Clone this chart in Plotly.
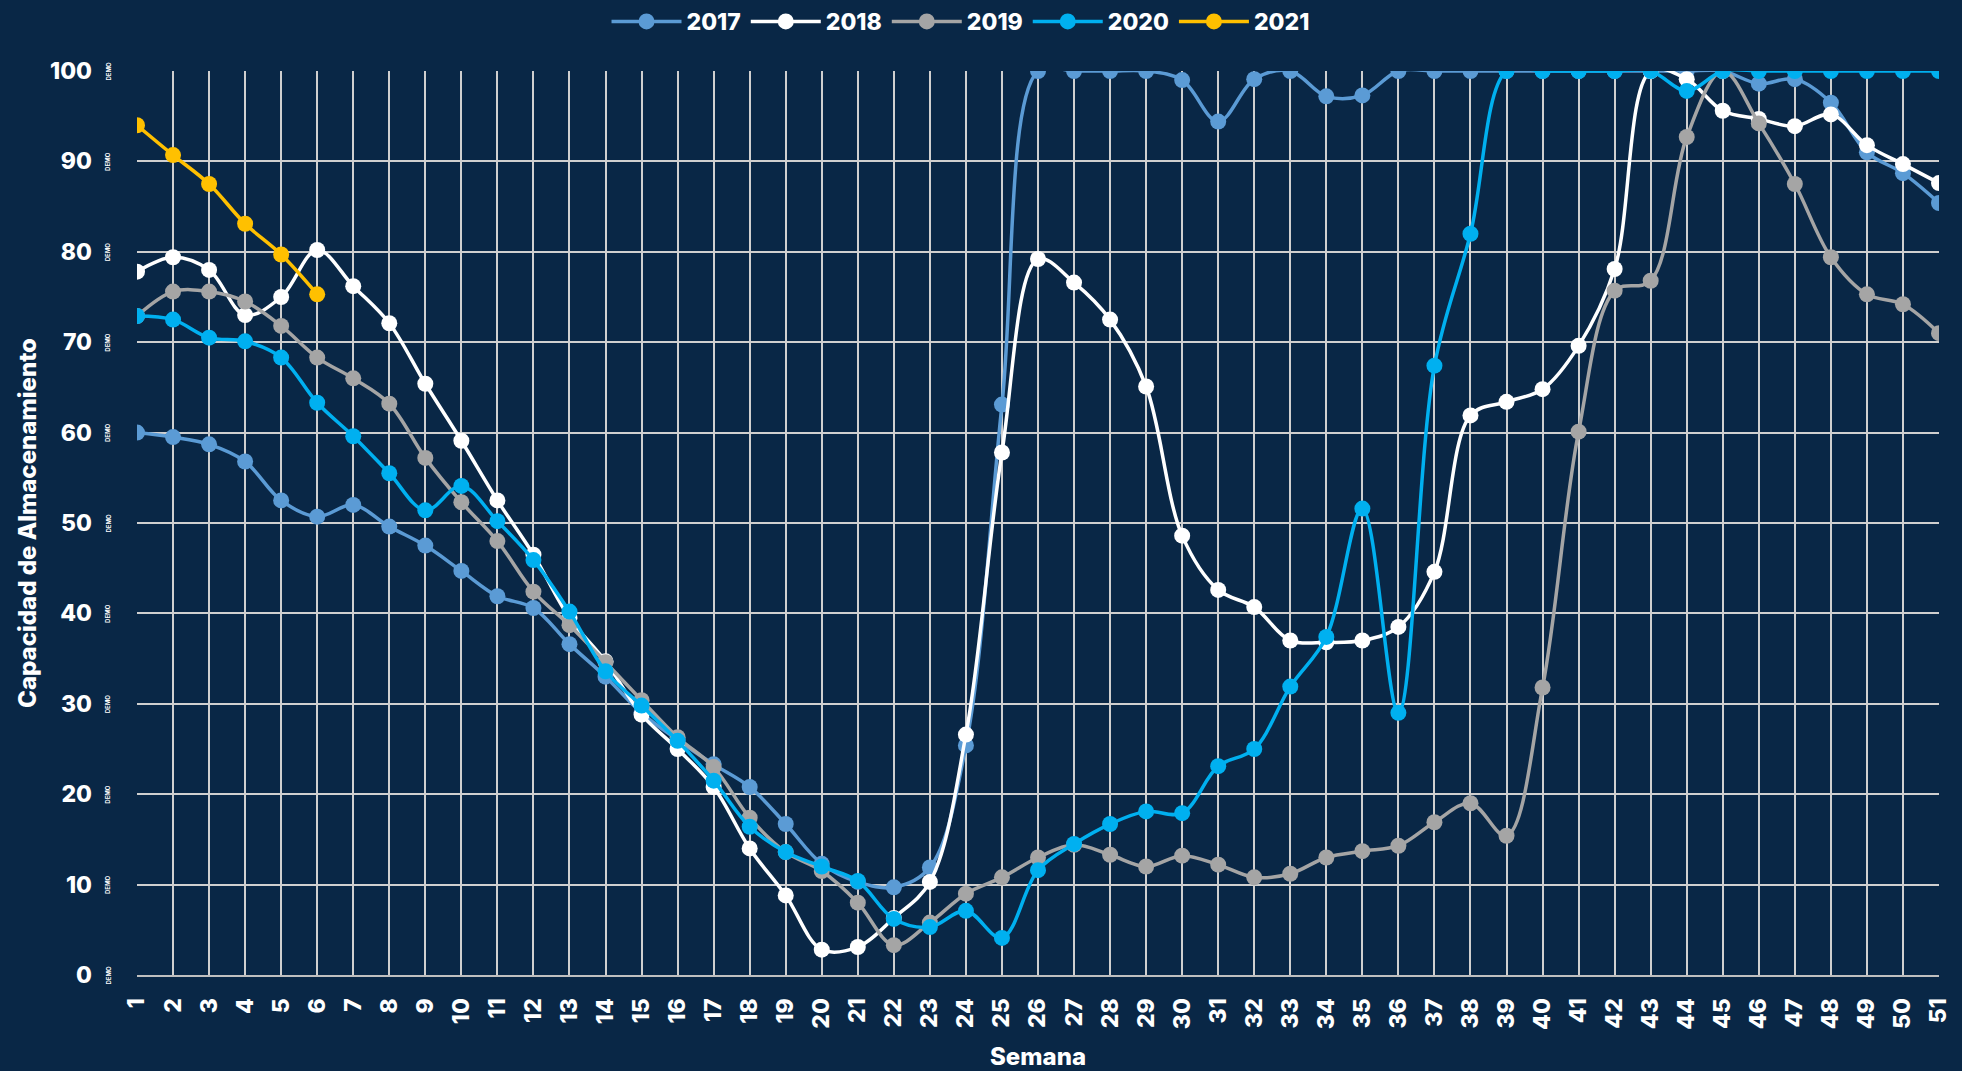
import plotly.graph_objects as go

weeks = list(range(1, 52))
week_labels = [str(w) for w in weeks]

y2017 = [60.0, 59.5, 58.7, 56.8, 52.5, 50.7, 52.0, 49.6, 47.5, 44.7,
         41.9, 40.6, 36.6, 33.0, 29.0, 26.0, 23.3, 20.8, 16.7, 12.3,
         10.3, 9.7, 11.9, 25.4, 63.1, 100, 100, 100, 100, 99.0,
         94.4, 99.1, 100, 97.2, 97.3, 100, 100, 100, 100, 100,
         100, 100, 100, 100, 100, 98.6, 99.1, 96.5, 91.0, 88.7, 85.4]

y2018 = [77.8, 79.4, 78.0, 73.0, 75.0, 80.2, 76.2, 72.1, 65.4, 59.1,
         52.5, 46.5, 39.5, 34.7, 28.8, 25.0, 20.8, 14.0, 8.8, 2.8,
         3.1, 6.3, 10.3, 26.6, 57.8, 79.2, 76.6, 72.5, 65.1, 48.6,
         42.6, 40.7, 37.0, 36.8, 37.0, 38.5, 44.6, 61.9, 63.4, 64.8,
         69.6, 78.1, 100, 99.1, 95.6, 94.7, 93.9, 95.2, 91.8, 89.7, 87.6]

y2019 = [72.9, 75.6, 75.6, 74.5, 71.8, 68.3, 66.0, 63.2, 57.2, 52.3,
         48.0, 42.4, 38.7, 34.6, 30.4, 26.3, 23.0, 17.4, 13.6, 11.5,
         8.0, 3.3, 5.8, 9.0, 10.8, 13.0, 14.4, 13.3, 12.0, 13.2,
         12.2, 10.8, 11.2, 13.0, 13.7, 14.3, 16.9, 19.0, 15.4, 31.8,
         60.1, 75.7, 76.8, 92.7, 100, 94.2, 87.5, 79.4, 75.3, 74.2, 71.0]

y2020 = [72.9, 72.5, 70.5, 70.1, 68.3, 63.3, 59.6, 55.5, 51.4, 54.1,
         50.2, 45.9, 40.2, 33.6, 29.8, 25.9, 21.5, 16.4, 13.6, 12.0,
         10.4, 6.2, 5.3, 7.1, 4.1, 11.6, 14.5, 16.7, 18.1, 17.9,
         23.1, 25.0, 31.9, 37.4, 51.6, 29.0, 67.4, 82.0, 100, 100,
         100, 100, 100, 97.8, 100, 100, 100, 100, 100, 100, 100]

y2021 = [94.0, 90.7, 87.5, 83.1, 79.7, 75.3]

series = [
    ("2017", y2017, "#5b9bd5"),
    ("2018", y2018, "#ffffff"),
    ("2019", y2019, "#a5a5a5"),
    ("2020", y2020, "#00b0f0"),
    ("2021", y2021, "#ffc000"),
]

y_ticks = list(range(0, 101, 10))

BG = "#092746"
FONT = "Inter"
W = 800

fig = go.Figure()
for name, vals, color in series:
    fig.add_trace(go.Scatter(
        x=weeks[:len(vals)], y=vals, name=name, mode="lines+markers",
        line=dict(color=color, width=3.5, shape="spline", smoothing=1.0),
        marker=dict(color=color, size=16),
    ))

# small "DEMO" marks next to y tick labels
for v in y_ticks:
    fig.add_annotation(x=0, xref="paper", xshift=-35, y=v, yref="y",
                       text="DEMO", textangle=-90, showarrow=False,
                       font=dict(family=FONT, size=6, color="#ffffff", weight="bold"))

fig.update_layout(
    width=1962, height=1071,
    paper_bgcolor=BG, plot_bgcolor=BG,
    margin=dict(l=137, r=23, t=71, b=96, autoexpand=False),
    font=dict(family=FONT, color="#ffffff", weight=W),
    legend=dict(orientation="h", x=0.457, xanchor="center", y=1.0, yanchor="top",
                yref="container",
                font=dict(family=FONT, size=23, color="#ffffff", weight=W),
                bgcolor="rgba(0,0,0,0)", itemwidth=70, tracegroupgap=0),
    showlegend=True,
)

fig.update_xaxes(
    range=[1, 51], tickmode="array", tickvals=weeks, ticktext=week_labels,
    tickangle=-90, tickfont=dict(family=FONT, size=23, color="#ffffff", weight=W),
    showgrid=True, gridcolor="#cfcfcf", gridwidth=2,
    showline=True, linecolor="#bfbfbf", linewidth=2, automargin=False,
    zeroline=False, ticks="", ticklabelstandoff=12,
    title=dict(text="Semana", font=dict(family=FONT, size=24, color="#ffffff", weight=W),
               standoff=22),
)
fig.update_yaxes(
    range=[0, 100], tickmode="array", tickvals=y_ticks, automargin=False,
    tickfont=dict(family=FONT, size=23, color="#ffffff", weight=W),
    showgrid=True, gridcolor="#cfcfcf", gridwidth=2,
    zeroline=False, ticks="", ticklabelstandoff=44,
    title=dict(text="Capacidad de Almacenamiento",
               font=dict(family=FONT, size=24, color="#ffffff", weight=W),
               standoff=6),
)

fig.write_html("out.html", config={"displayModeBar": False},
               post_script="document.body.style.margin='0';document.body.style.background='%s';" % BG)
